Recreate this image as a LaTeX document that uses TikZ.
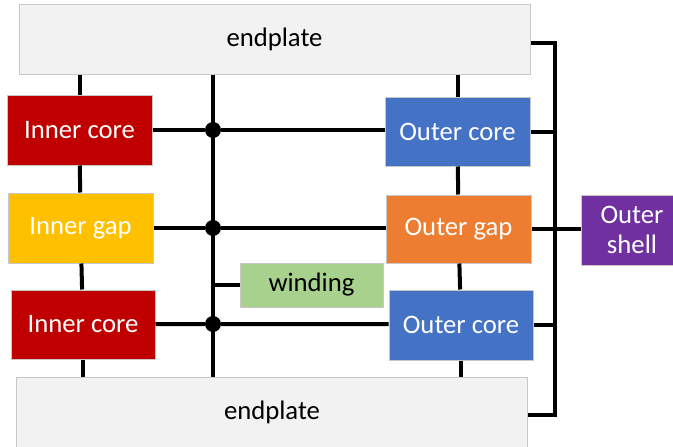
\documentclass[tikz,border=0pt]{standalone}
\usepackage{fontspec}
\setmainfont{Carlito}
\usetikzlibrary{positioning}
\definecolor{platefill}{HTML}{F2F2F2}
\definecolor{edgegray}{HTML}{C8C8C8}
\definecolor{corered}{HTML}{C00000}
\definecolor{gapyellow}{HTML}{FFC000}
\definecolor{coreblue}{HTML}{4472C4}
\definecolor{gaporange}{HTML}{ED7D31}
\definecolor{shellpurple}{HTML}{7030A0}
\definecolor{windgreen}{HTML}{A9D18E}
\tikzset{
  blk/.style={
    draw=edgegray, line width=1pt, rectangle, align=center, inner sep=0pt,
    text=white, font=\fontsize{26.7}{30}\selectfont,
    minimum width=145pt, minimum height=70pt
  },
  plate/.style={
    blk, fill=platefill, text=black, minimum width=511pt
  },
  dot/.style={
    circle, fill=black, inner sep=0pt, minimum size=16pt
  },
  link/.style={
    line width=4pt
  },
}

\begin{document}
\begin{tikzpicture}[x=1pt, y=-1pt]
  \useasboundingbox (0,0) rectangle (673,447);
  % end plates
  \node[plate] (ep1) at (274.5,39) {endplate};
  \node[plate] (ep2) at (272,412) {endplate};
  % inner column
  \node[blk, fill=corered] (ic1) at (79.5,130) {Inner core};
  \node[blk, fill=gapyellow] (ig) at (80.5,228) {Inner gap};
  \node[blk, fill=corered, minimum width=144pt, minimum height=69pt] (ic2) at (83,324.5) {Inner core};
  % outer column
  \node[blk, fill=coreblue, minimum height=69pt] (oc1) at (457.5,131.5) {Outer core};
  \node[blk, fill=gaporange, minimum height=68pt] (og) at (458.5,229) {Outer gap};
  \node[blk, fill=coreblue, minimum width=144pt] (oc2) at (461,325) {Outer core};
  \node[blk, fill=shellpurple, minimum width=102pt] (os) at (632,230) {Outer\\shell};
  \node[blk, fill=windgreen, text=black, minimum width=143pt, minimum height=44pt] (wd) at (311.5,285) {winding};
  % junctions
  \node[dot] (j1) at (213,130) {};
  \node[dot] (j2) at (213,228) {};
  \node[dot] (j3) at (213,324) {};
  \coordinate (bt) at (555,43);
  \coordinate (bb) at (555,415);

  \draw[link] (ep1.south -| j1) -- (ep2.north -| j1);
  \draw[link] (ic1) -- (j1) -- (j1 -| oc1.west);
  \draw[link] (ig) -- (j2) -- (j2 -| og.west);
  \draw[link] (ic2) -- (j3) -- (j3 -| oc2.west);
  \draw[link] (wd.west) -- (wd.west -| j1);

  \draw[link] (ic1) -- (ic1 |- ep1.south);
  \draw[link] (ic1) -- (ig);
  \draw[link] (ig) -- (ic2);
  \draw[link] (ic2) -- (ic2 |- ep2.north);
  \draw[link] (oc1) -- (oc1 |- ep1.south);
  \draw[link] (oc1) -- (og);
  \draw[link] (og) -- (oc2);
  \draw[link] (oc2) -- (oc2 |- ep2.north);

  \draw[link] (ep1.east |- bt) -- (bt) -- (bb) -- (ep2.east |- bb);
  \draw[link] (oc1.east) -- (oc1.east -| bt);
  \draw[link] (oc2.east) -- (oc2.east -| bt);
  \draw[link] (og.east) -- (og.east -| os.west);
\end{tikzpicture}
\end{document}
